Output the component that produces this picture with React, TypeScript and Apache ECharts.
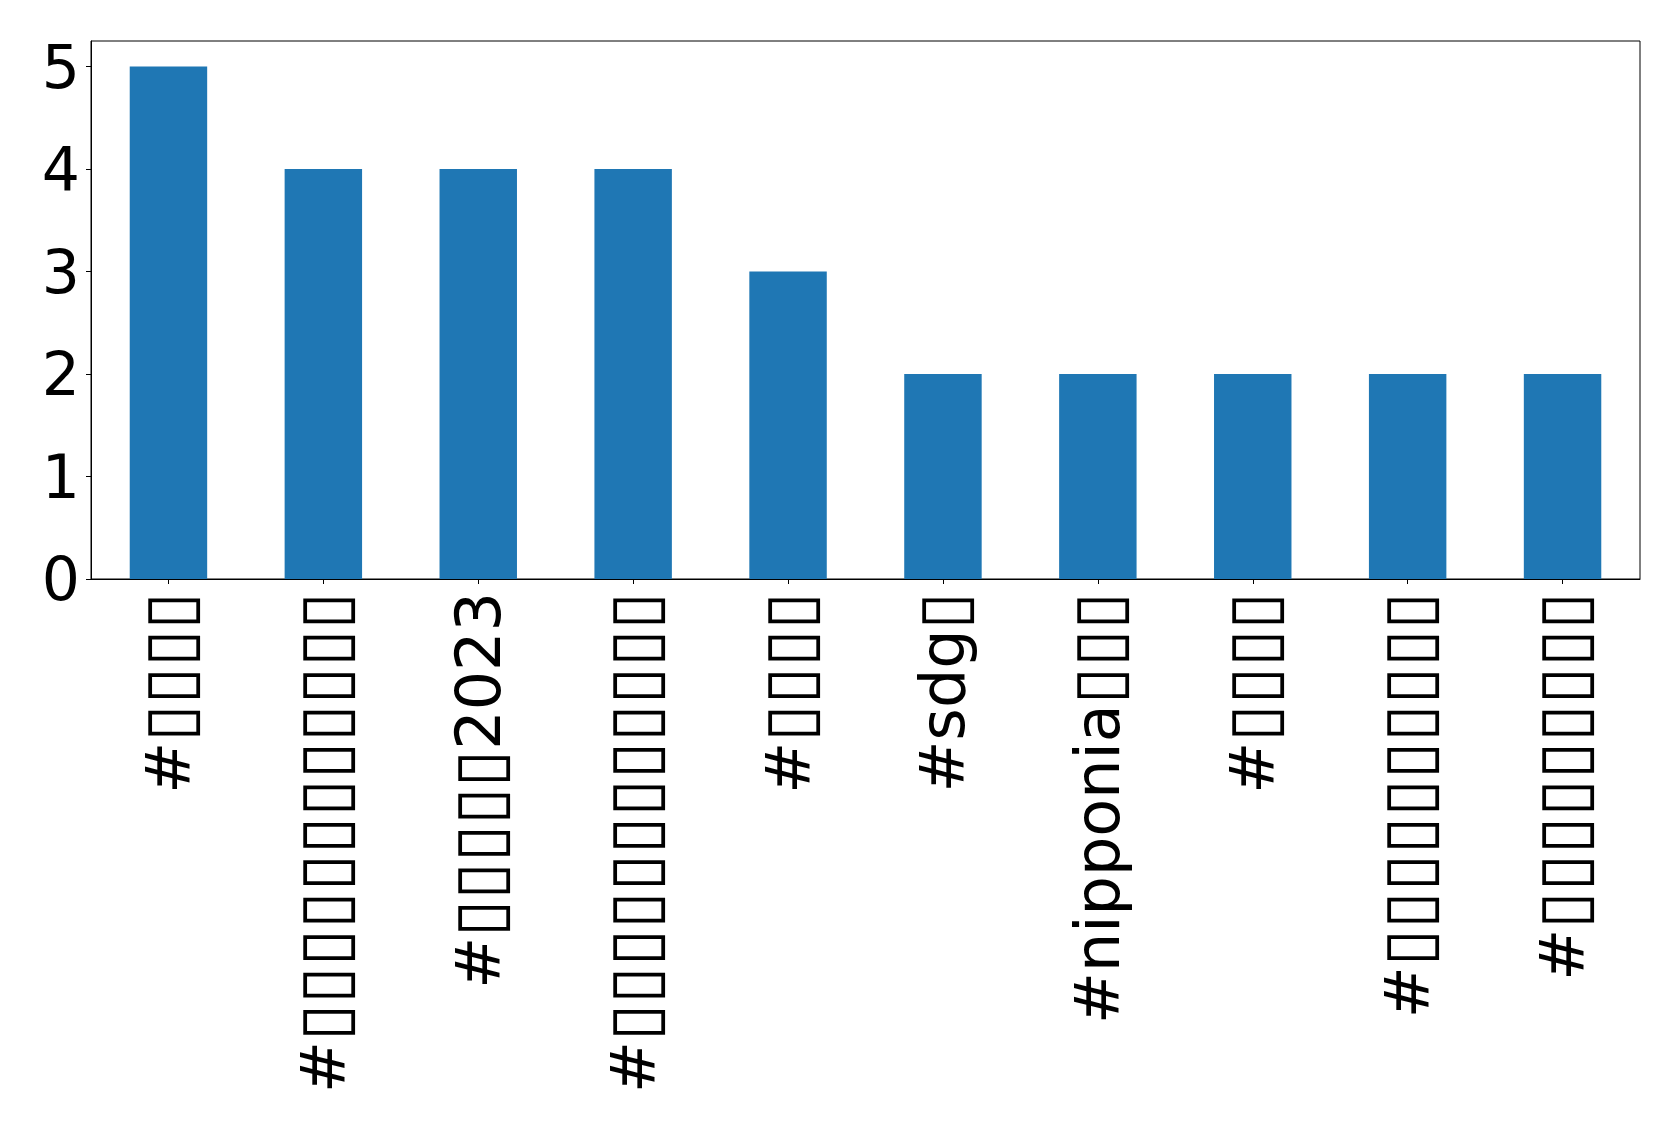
import React, { useEffect, useRef } from "react";
import * as echarts from "echarts";

const categories = [
  "#▯▯▯▯",
  "#▯▯▯▯▯▯▯▯▯▯▯▯",
  "#▯▯▯▯▯2023",
  "#▯▯▯▯▯▯▯▯▯▯▯▯",
  "#▯▯▯▯",
  "#sdg▯",
  "#nipponia▯▯▯",
  "#▯▯▯▯",
  "#▯▯▯▯▯▯▯▯▯▯",
  "#▯▯▯▯▯▯▯▯▯",
];
const counts = [5, 4, 4, 4, 3, 2, 2, 2, 2, 2];
const yTicks = [0, 1, 2, 3, 4, 5];

function toRich(s: string): string {
  const parts = s.match(/▯+|[^▯]+/g) || [];
  return parts
    .map((p) => (p[0] === "▯" ? `{b|${p}}` : `{t|${p}}`))
    .join("");
}

export default function App() {
  const ref = useRef<HTMLDivElement>(null);
  useEffect(() => {
    if (!ref.current) return;
    const chart = echarts.init(ref.current, null, { renderer: "svg" });
    const font = "DejaVu Sans";
    chart.setOption({
      animation: false,
      backgroundColor: "#ffffff",
      grid: {
        left: 91,
        top: 41,
        right: 39,
        bottom: 552,
        show: true,
        borderColor: "#000000",
        borderWidth: 1,
        containLabel: false,
      },
      xAxis: {
        type: "category",
        data: categories,
        boundaryGap: true,
        axisLine: { show: true, lineStyle: { color: "#000", width: 1 } },
        axisTick: { show: true, alignWithLabel: true, length: 5, lineStyle: { color: "#000" } },
        axisLabel: {
          interval: 0,
          rotate: 90,
          margin: 13,
          fontFamily: font,
          fontSize: 62,
          color: "#000",
          formatter: (v: string) => toRich(v),
          rich: {
            t: { fontFamily: font, fontSize: 62, color: "#000" },
            b: { fontFamily: font, fontSize: 68, color: "#000" },
          },
        },
      },
      yAxis: {
        type: "value",
        min: 0,
        max: 5.25,
        interval: 1,
        splitLine: { show: false },
        axisLine: { show: true, lineStyle: { color: "#000", width: 1 } },
        axisTick: { show: true, length: 5, customValues: yTicks, lineStyle: { color: "#000" } },
        axisLabel: {
          customValues: yTicks,
          margin: 11,
          fontFamily: font,
          fontSize: 60,
          color: "#000",
        },
      },
      series: [
        {
          type: "bar",
          data: counts,
          barWidth: "50%",
          itemStyle: { color: "#1f77b4" },
        },
      ],
    });
    return () => chart.dispose();
  }, []);
  return (
    <div
      ref={ref}
      style={{ position: "absolute", left: 0, top: 0, width: 1679, height: 1131 }}
    />
  );
}
